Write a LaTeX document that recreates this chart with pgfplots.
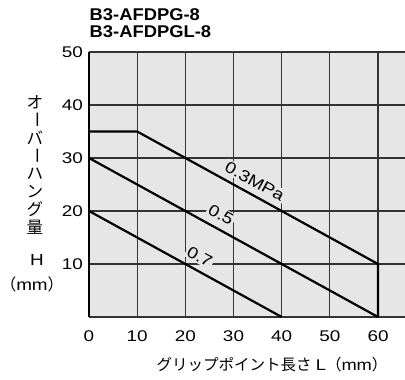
\documentclass[border=0pt]{standalone}
\usepackage{fontspec}
\setmainfont{Liberation Sans}
\newfontfamily\wide[FakeStretch=1.18]{Liberation Sans}
\newfontfamily\tickfont[FakeStretch=1.22]{Liberation Sans}
\newfontfamily\titlefont[FakeStretch=1.08]{Liberation Sans}
\newfontfamily\jp{Noto Sans CJK JP}
\usepackage{graphicx}
\usepackage{pgfplots}
\pgfplotsset{compat=1.18}
\definecolor{bg}{HTML}{E6E6E6}
\definecolor{gridc}{HTML}{333333}
\begin{document}
\begin{tikzpicture}[x=1pt,y=1pt]
\path[use as bounding box] (0,0) rectangle (405,380);
\begin{axis}[
 at={(89pt,63pt)}, anchor=south west,
 scale only axis, width=316pt, height=265pt,
 xmin=0, xmax=65.6, ymin=0, ymax=50,
 xtick={0,10,...,60}, ytick={10,20,...,50},
 major tick length=0pt,
 grid=major,
 major grid style={draw=gridc, line width=1.1pt},
 axis line style={draw=none},
 axis background/.style={fill=bg},
 tick label style={font=\fontsize{15.5}{17}\selectfont\tickfont},
 xticklabel style={yshift=-10pt},
 yticklabel style={xshift=-2.5pt},
 /pgf/number format/assume math mode=true,
 clip=false,
]
\draw[line width=1.2pt, gridc] (axis cs:0,50) -- (axis cs:65.6,50);
\draw[line width=1.4pt, gridc] (axis cs:0,0) -- (axis cs:65.6,0);
\draw[line width=2.4pt, black] (axis cs:0,0) -- (axis cs:0,50);
\addplot[line width=2.2pt, black] coordinates {(0,35) (10,35) (60,10) (60,0)};
\addplot[line width=2.2pt, black] coordinates {(0,30) (60,0)};
\addplot[line width=2.2pt, black] coordinates {(0,20) (40,0)};
\node[fill=bg, rotate=-28.8, inner sep=1.5pt, font=\fontsize{16}{16}\selectfont\wide] at (axis cs:34.4,25.6) {0.3MPa};
\node[fill=bg, rotate=-28.8, inner sep=1.5pt, font=\fontsize{16}{16}\selectfont\wide] at (axis cs:27.4,19.3) {0.5};
\node[fill=bg, rotate=-28.8, inner sep=1.5pt, font=\fontsize{16}{16}\selectfont\wide] at (axis cs:23,11.4) {0.7};
\end{axis}
\node[anchor=base west, inner sep=0pt, font=\fontsize{17}{17}\selectfont\titlefont\bfseries] at (89.5,359.3) {B3-AFDPG-8};
\node[anchor=base west, inner sep=0pt, font=\fontsize{17}{17}\selectfont\titlefont\bfseries] at (89.5,342.7) {B3-AFDPGL-8};
\foreach \c [count=\i] in {オ,\rotatebox{-90}{ー},バ,\rotatebox{-90}{ー},ハ,ン,グ,量}
  \node[inner sep=0pt, font=\fontsize{16.5}{16.5}\selectfont\jp] at (35,{380-102-(\i-1)*17.9}) {\c};
\node[inner sep=0pt, font=\fontsize{16}{16}\selectfont\wide] at (37,120) {H};
\node[inner sep=0pt, font=\fontsize{16}{16}\selectfont] at (32,96) {{\jp （}{\wide mm}{\jp ）}};
\node[inner sep=0pt, font=\fontsize{15.5}{15.5}\selectfont] at (272,15) {{\jp グリップポイント長さ}\ {\wide L}{\jp （}{\wide mm}{\jp ）}};
\end{tikzpicture}
\end{document}
